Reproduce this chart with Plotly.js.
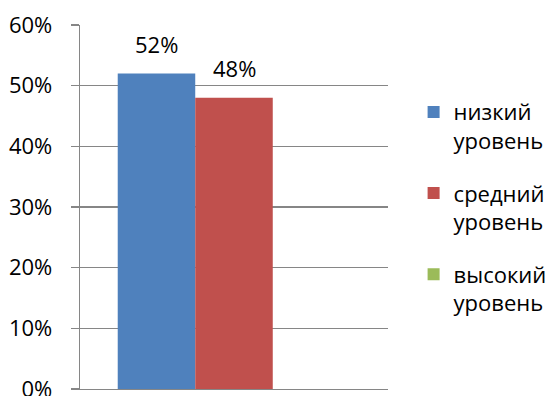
<!DOCTYPE html>
<html>
<head>
<meta charset="utf-8">
<script src="https://cdn.plot.ly/plotly-3.0.1.min.js"></script>
<style>html,body{margin:0;padding:0;background:#fff;}#chart{width:550px;height:396px;}</style>
</head>
<body>
<div id="chart"></div>
<script>
const categories = ['группа'];
const seriesNames = ['низкий<br>уровень', 'средний<br>уровень', 'высокий<br>уровень'];
const lowValues = [0.52];
const midValues = [0.48];
const highValues = [0.00];
const seriesValues = [lowValues, midValues, highValues];
const seriesColors = ['#4F81BD', '#C0504D', '#9BBB59'];
const tickVals = [0, 0.1, 0.2, 0.3, 0.4, 0.5, 0.6];
const tickText = ['0%', '10%', '20%', '30%', '40%', '50%', '60%'];

const FONT = 'Open Sans, Liberation Sans, sans-serif';
const FS = 22;
const bargap = 0.245;
const barW = (1 - bargap) / seriesValues.length;

const traces = seriesValues.map((vals, i) => ({
  type: 'bar',
  name: seriesNames[i],
  x: categories,
  y: vals,
  marker: {color: seriesColors[i]},
  legendgroup: 'g' + i,
  hoverinfo: 'none'
}));

const annotations = [];
seriesValues.forEach((vals, i) => {
  vals.forEach((v, j) => {
    if (v > 0) {
      annotations.push({
        x: j + (i - (seriesValues.length - 1) / 2) * barW,
        y: v,
        xref: 'x', yref: 'y',
        text: Math.round(v * 100) + '%',
        showarrow: false,
        yanchor: 'bottom',
        yshift: 13,
        font: {family: FONT, size: FS, color: '#000'}
      });
    }
  });
});

const layout = {
  width: 550, height: 396,
  margin: {l: 80, r: 162, t: 24.5, b: 7, pad: 0, autoexpand: false},
  paper_bgcolor: '#fff', plot_bgcolor: '#fff',
  font: {family: FONT, size: FS, color: '#000'},
  barmode: 'group',
  bargap: bargap,
  bargroupgap: 0,
  showlegend: true,
  legend: {
    xref: 'container', yref: 'container',
    x: 0.752, xanchor: 'left',
    y: 0.77, yanchor: 'top',
    valign: 'top',
    tracegroupgap: 21,
    traceorder: 'grouped',
    maxheight: 380,
    font: {family: FONT, size: FS, color: '#000'},
    bgcolor: 'rgba(0,0,0,0)'
  },
  xaxis: {
    showticklabels: false,
    showgrid: false,
    showline: true,
    linecolor: '#868686',
    linewidth: 1.3,
    ticks: '',
    zeroline: false
  },
  yaxis: {
    range: [0, 0.6],
    tickvals: tickVals,
    ticktext: tickText,
    showgrid: true,
    gridcolor: '#868686',
    gridwidth: 1.3,
    showline: true,
    linecolor: '#868686',
    linewidth: 1.3,
    ticks: 'outside',
    ticklen: 8,
    tickwidth: 1.3,
    tickcolor: '#868686',
    ticklabelstandoff: 14,
    ticklabeloverflow: 'allow',
    zeroline: false,
    tickfont: {family: FONT, size: FS, color: '#000'}
  },
  annotations: annotations
};

Plotly.newPlot('chart', traces, layout, {displayModeBar: false, staticPlot: true});
</script>
</body>
</html>
